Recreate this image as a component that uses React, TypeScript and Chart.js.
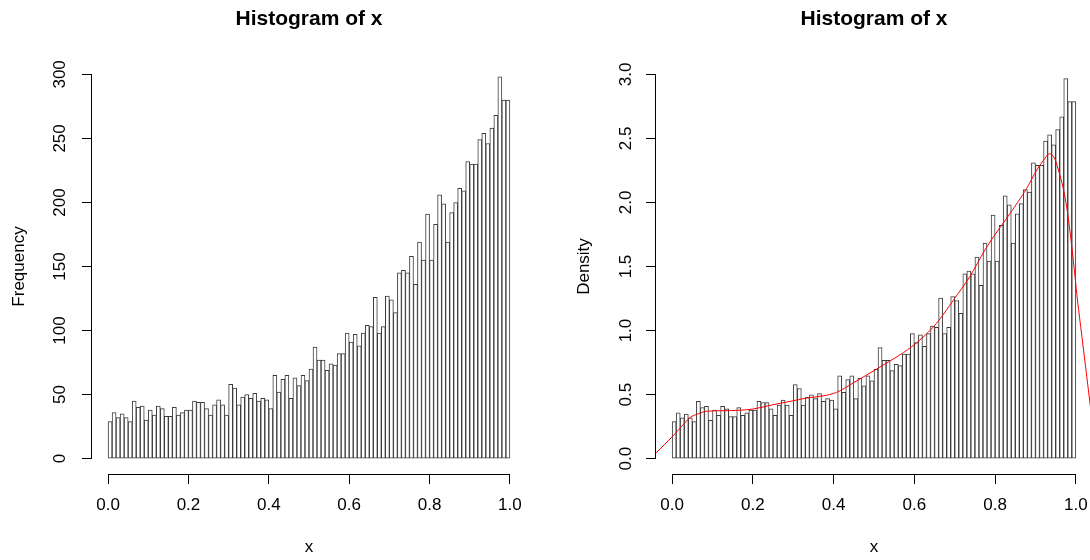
import React, { useEffect, useRef } from "react";
import { Chart, registerables } from "chart.js";

Chart.register(...registerables);

const FONT_FAMILY = "'Liberation Sans', Arial, Helvetica, sans-serif";

// Histogram breaks: 100 equal bins of width 0.01 starting at 0
const BREAK_START = 0;
const BIN_WIDTH = 0.01;

// Bin counts, left to right
const COUNTS = [
  29, 36, 32, 35, 32, 29, 45, 40, 41, 30,
  38, 34, 41, 39, 33, 33, 40, 34, 36, 38,
  38, 45, 44, 44, 39, 34, 42, 46, 42, 34,
  58, 55, 42, 48, 50, 47, 51, 45, 47, 46,
  39, 65, 52, 62, 65, 47, 63, 57, 65, 61,
  70, 87, 77, 77, 69, 74, 73, 82, 82, 98,
  91, 97, 88, 98, 104, 103, 126, 98, 103, 127,
  124, 114, 145, 147, 145, 158, 136, 169, 155, 191,
  155, 183, 206, 199, 169, 192, 200, 211, 209, 232,
  230, 230, 249, 254, 246, 258, 268, 298, 280, 280,
];

// Kernel density estimate overlaid on the density histogram
const KDE_X = [
  -0.04, -0.02, 0.0, 0.023, 0.044, 0.065, 0.085, 0.126, 0.168, 0.2,
  0.25, 0.292, 0.333, 0.374, 0.407, 0.448, 0.49, 0.531, 0.573, 0.614,
  0.655, 0.697, 0.737, 0.775, 0.796, 0.837, 0.878, 0.903, 0.92, 0.935,
  0.948, 0.958, 0.968, 0.978, 0.99, 0.998, 1.004, 1.015, 1.025, 1.035, 1.04,
];
const KDE_Y = [
  0.044, 0.107, 0.17, 0.25, 0.32, 0.35, 0.37, 0.374, 0.378, 0.387,
  0.421, 0.447, 0.473, 0.49, 0.517, 0.59, 0.668, 0.746, 0.828, 0.927,
  1.057, 1.239, 1.42, 1.63, 1.732, 1.914, 2.109, 2.252, 2.33, 2.38,
  2.34, 2.24, 2.12, 1.95, 1.654, 1.42, 1.239, 0.953, 0.694, 0.434, 0.3,
];

const X_TICKS = [0, 0.2, 0.4, 0.6, 0.8, 1.0];
const FREQ_TICKS = [0, 50, 100, 150, 200, 250, 300];
const DENSITY_TICKS = [0, 0.5, 1.0, 1.5, 2.0, 2.5, 3.0];

const TITLE = "Histogram of x";
const X_LABEL = "x";
const FREQ_LABEL = "Frequency";
const DENSITY_LABEL = "Density";

const TOTAL = COUNTS.reduce((a, b) => a + b, 0);
const DENSITIES = COUNTS.map((c) => c / (TOTAL * BIN_WIDTH));
const MIDS = COUNTS.map((_, i) => BREAK_START + (i + 0.5) * BIN_WIDTH);

// Draws base-graphics style axis lines that only span the first..last tick
const rAxisLines = {
  id: "rAxisLines",
  afterDraw(chart: any) {
    const { ctx, chartArea } = chart;
    const xs = chart.scales.x;
    const ys = chart.scales.y;
    const align = (p: number) => Math.round(p - 0.5) + 0.5;
    const x0 = align(xs.getPixelForValue(xs.ticks[0].value));
    const x1 = align(xs.getPixelForValue(xs.ticks[xs.ticks.length - 1].value));
    const y0 = align(ys.getPixelForValue(ys.ticks[0].value));
    const y1 = align(ys.getPixelForValue(ys.ticks[ys.ticks.length - 1].value));
    const by = Math.round(chartArea.bottom) + 0.5;
    const lx = Math.round(chartArea.left) - 0.5;
    ctx.save();
    ctx.strokeStyle = "#000";
    ctx.lineWidth = 1;
    ctx.beginPath();
    ctx.moveTo(x0 - 0.5, by);
    ctx.lineTo(x1 + 0.5, by);
    ctx.moveTo(lx, y0 + 0.5);
    ctx.lineTo(lx, y1 - 0.5);
    ctx.stroke();
    ctx.restore();
  },
};

type PanelSpec = {
  values: number[];
  yMin: number;
  yMax: number;
  yTicks: number[];
  yFormat: (v: number) => string;
  yLabel: string;
  yAxisWidth: number;
  yTitlePad: number;
  padRight: number;
  curve?: { x: number[]; y: number[] };
};

function makeConfig(spec: PanelSpec): any {
  const font = (size: number, weight?: string) => ({ size, family: FONT_FAMILY, weight });
  const datasets: any[] = [];
  if (spec.curve) {
    datasets.push({
      type: "line",
      data: spec.curve.x.map((x, i) => ({ x, y: spec.curve!.y[i] })),
      borderColor: "#ff0000",
      borderWidth: 1,
      pointRadius: 0,
      cubicInterpolationMode: "monotone",
      fill: false,
      order: 0,
    });
  }
  datasets.push({
    type: "bar",
    data: MIDS.map((x, i) => ({ x, y: spec.values[i] })),
    backgroundColor: "#ffffff",
    borderColor: "#3a3a3a",
    borderWidth: 1,
    borderSkipped: false,
    barPercentage: 1,
    categoryPercentage: 1,
    order: 1,
  });

  return {
    type: "bar",
    data: { datasets },
    options: {
      animation: false,
      responsive: false,
      devicePixelRatio: 1,
      events: [],
      layout: { autoPadding: false, padding: { left: 0, right: spec.padRight, top: 0, bottom: 0 } },
      plugins: {
        legend: { display: false },
        tooltip: { enabled: false },
        title: {
          display: true,
          text: TITLE,
          fullSize: false,
          color: "#000",
          font: font(21, "bold"),
          padding: { top: 7, bottom: 26.8 },
        },
      },
      scales: {
        x: {
          type: "linear",
          min: -0.04,
          max: 1.04,
          offset: false,
          afterFit: (s: any) => {
            s.height = 86;
          },
          afterBuildTicks: (s: any) => {
            s.ticks = X_TICKS.map((v) => ({ value: v }));
          },
          grid: {
            display: true,
            offset: false,
            drawOnChartArea: false,
            drawTicks: true,
            tickLength: 10,
            color: "#000",
            tickColor: "#000",
            tickWidth: 1,
          },
          border: { display: false },
          ticks: {
            autoSkip: false,
            minRotation: 0,
            maxRotation: 0,
            padding: 11.6,
            color: "#000",
            font: font(17),
            callback: (v: number) => Number(v).toFixed(1),
          },
          title: {
            display: true,
            text: X_LABEL,
            color: "#000",
            font: font(17),
            padding: { top: 0, bottom: 2 },
          },
        },
        y: {
          type: "linear",
          min: spec.yMin,
          max: spec.yMax,
          afterFit: (s: any) => {
            s.width = spec.yAxisWidth;
          },
          afterBuildTicks: (s: any) => {
            s.ticks = spec.yTicks.map((v) => ({ value: v }));
          },
          grid: {
            display: true,
            drawOnChartArea: false,
            drawTicks: true,
            tickLength: 10,
            color: "#000",
            tickColor: "#000",
            tickWidth: 1,
          },
          border: { display: false },
          ticks: {
            autoSkip: false,
            minRotation: 90,
            maxRotation: 90,
            crossAlign: "center",
            padding: 8,
            color: "#000",
            font: font(17),
            callback: (v: number) => spec.yFormat(Number(v)),
          },
          title: {
            display: true,
            text: spec.yLabel,
            color: "#000",
            font: font(17),
            padding: { top: spec.yTitlePad, bottom: 0 },
          },
        },
      },
    },
    plugins: [rAxisLines],
  };
}

export default function App() {
  const leftRef = useRef<HTMLCanvasElement | null>(null);
  const rightRef = useRef<HTMLCanvasElement | null>(null);

  useEffect(() => {
    if (!leftRef.current || !rightRef.current) return;
    const freqChart = new Chart(
      leftRef.current,
      makeConfig({
        values: COUNTS,
        yMin: -12,
        yMax: 312,
        yTicks: FREQ_TICKS,
        yFormat: (v) => String(v),
        yLabel: FREQ_LABEL,
        yAxisWidth: 92,
        yTitlePad: 9.5,
        padRight: 19,
      })
    );
    const densChart = new Chart(
      rightRef.current,
      makeConfig({
        values: DENSITIES,
        yMin: -0.12,
        yMax: 3.12,
        yTicks: DENSITY_TICKS,
        yFormat: (v) => v.toFixed(1),
        yLabel: DENSITY_LABEL,
        yAxisWidth: 111,
        yTitlePad: 29.2,
        padRight: 13,
        curve: { x: KDE_X, y: KDE_Y },
      })
    );
    return () => {
      freqChart.destroy();
      densChart.destroy();
    };
  }, []);

  return (
    <div
      style={{
        position: "fixed",
        left: 0,
        top: 0,
        width: 1090,
        height: 560,
        overflow: "hidden",
        background: "#ffffff",
      }}
    >
      <canvas
        ref={leftRef}
        width={545}
        height={560}
        style={{ position: "absolute", left: 0, top: 0, width: 545, height: 560 }}
      />
      <canvas
        ref={rightRef}
        width={560}
        height={560}
        style={{ position: "absolute", left: 545, top: 0, width: 560, height: 560 }}
      />
    </div>
  );
}
